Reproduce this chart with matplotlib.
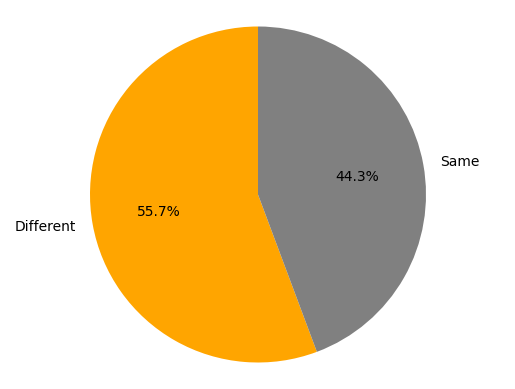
import matplotlib
matplotlib.use("Agg")
import matplotlib.pyplot as plt

labels = ["Different", "Same"]
shares = [55.7, 44.3]
colors = ["orange", "gray"]

fig = plt.figure(figsize=(5.15, 3.89), dpi=100)
ax = fig.add_axes([0, 0, 1, 1])
ax.pie(shares, labels=labels, colors=colors, autopct="%1.1f%%",
       startangle=90, textprops={"fontsize": 10})
ax.set_aspect("auto")
# pie centred at (258, 194.5) px with radius 168 px
ax.set_xlim(-258 / 168, 257 / 168)
ax.set_ylim(-194.5 / 168, 194.5 / 168)
ax.axis("off")

fig.savefig("out.png", dpi=100, facecolor="white")
